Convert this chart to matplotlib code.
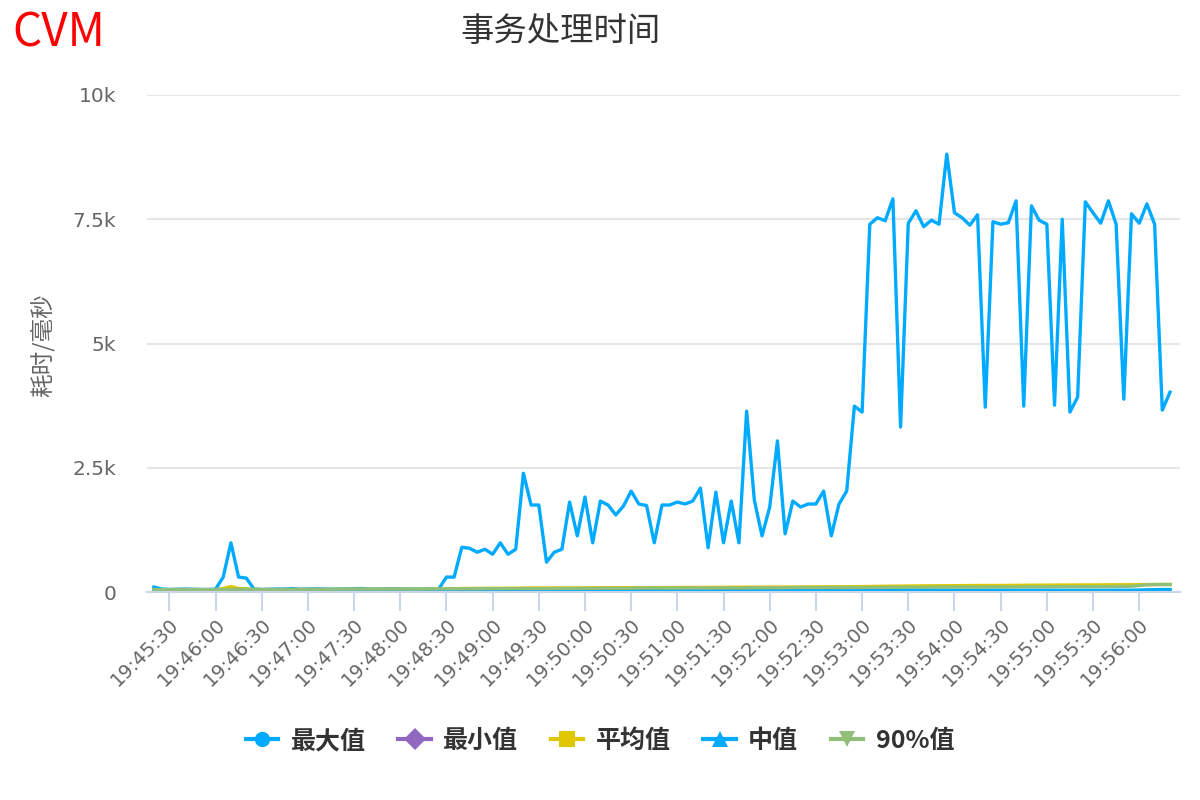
import numpy as np
import pandas as pd
import matplotlib
matplotlib.use("Agg")
import matplotlib.pyplot as plt
from matplotlib.lines import Line2D
from matplotlib.ticker import FuncFormatter, MultipleLocator

plt.rcParams['font.family'] = ['Noto Sans CJK SC', 'DejaVu Sans']

# 采样时间: 19:45:20 起, 每 5 秒一个点
times = pd.date_range("2020-01-01 19:45:20", periods=133, freq="5s")

max_vals = [100, 60, 50, 55, 60, 55, 50, 50, 55, 300,
            990, 300, 280, 60, 50, 55, 60, 60, 70, 55,
            60, 65, 60, 55, 60, 60, 65, 70, 60, 55,
            60, 65, 60, 60, 55, 60, 60, 60, 300, 300,
            900, 880, 800, 860, 760, 990, 760, 860, 2390, 1750,
            1750, 600, 800, 860, 1810, 1130, 1910, 990, 1830, 1750,
            1550, 1730, 2030, 1770, 1740, 990, 1750, 1750, 1810, 1770,
            1830, 2090, 890, 2010, 990, 1830, 990, 3640, 1850, 1130,
            1710, 3040, 1170, 1830, 1710, 1770, 1770, 2030, 1130, 1770,
            2030, 3740, 3620, 7400, 7530, 7470, 7910, 3320, 7420, 7670,
            7350, 7480, 7400, 8810, 7630, 7530, 7380, 7590, 3720, 7450,
            7400, 7430, 7870, 3740, 7770, 7480, 7400, 3760, 7500, 3620,
            3920, 7850, 7630, 7420, 7870, 7400, 3880, 7610, 7420, 7810,
            7400, 3660, 4020]

min_vals = [20, 20, 22, 22, 20, 20, 22, 22, 20, 22,
            22, 22, 22, 20, 20, 22, 22, 22, 22, 24,
            24, 22, 22, 24, 24, 24, 24, 22, 24, 24,
            24, 24, 24, 24, 24, 26, 26, 24, 24, 26,
            26, 26, 26, 26, 26, 26, 26, 26, 26, 26,
            26, 26, 26, 26, 26, 24, 24, 24, 24, 24,
            24, 24, 24, 24, 24, 24, 22, 22, 22, 22,
            22, 22, 22, 22, 22, 22, 22, 22, 22, 22,
            22, 22, 22, 22, 22, 22, 22, 22, 22, 22,
            22, 22, 22, 22, 22, 22, 22, 22, 22, 22,
            22, 22, 22, 22, 22, 22, 22, 22, 22, 22,
            22, 22, 22, 22, 22, 22, 22, 22, 22, 22,
            22, 22, 22, 22, 22, 22, 22, 22, 26, 30,
            32, 32, 32]

avg_vals = [45, 40, 42, 44, 42, 42, 44, 42, 44, 70,
            110, 70, 65, 48, 45, 45, 46, 46, 48, 48,
            48, 48, 48, 50, 50, 50, 50, 52, 52, 52,
            52, 52, 54, 54, 54, 54, 56, 58, 62, 64,
            70, 72, 72, 74, 74, 76, 76, 76, 80, 80,
            80, 78, 78, 80, 82, 82, 84, 84, 86, 86,
            86, 86, 88, 88, 88, 88, 90, 90, 90, 92,
            92, 92, 92, 94, 94, 96, 96, 98, 98, 98,
            100, 100, 100, 102, 102, 102, 104, 104, 104, 106,
            106, 108, 110, 112, 114, 116, 118, 120, 120, 122,
            124, 124, 126, 126, 128, 128, 130, 130, 132, 132,
            132, 134, 134, 136, 136, 138, 138, 140, 140, 140,
            142, 142, 142, 144, 144, 144, 146, 146, 148, 150,
            150, 152, 152]

median_vals = [40, 40, 42, 42, 42, 42, 42, 42, 42, 44,
               44, 44, 44, 44, 44, 44, 44, 44, 46, 46,
               46, 46, 46, 46, 46, 46, 46, 48, 48, 48,
               48, 48, 48, 48, 48, 48, 48, 48, 48, 48,
               48, 48, 48, 48, 48, 48, 48, 46, 46, 46,
               46, 46, 46, 46, 44, 44, 44, 44, 44, 44,
               44, 42, 42, 42, 42, 42, 40, 40, 40, 40,
               40, 38, 38, 38, 38, 38, 38, 36, 36, 36,
               36, 36, 36, 36, 36, 36, 36, 36, 36, 36,
               36, 36, 36, 36, 36, 36, 36, 36, 36, 36,
               36, 36, 36, 36, 36, 36, 36, 36, 36, 36,
               36, 36, 36, 36, 36, 36, 36, 36, 36, 36,
               36, 36, 36, 36, 36, 36, 36, 36, 40, 45,
               48, 50, 50]

p90_vals = [50, 48, 50, 52, 50, 50, 52, 50, 50, 52,
            55, 55, 55, 55, 52, 52, 52, 52, 55, 55,
            55, 55, 55, 55, 58, 58, 58, 58, 58, 58,
            60, 60, 60, 60, 60, 60, 62, 62, 65, 65,
            65, 65, 65, 68, 68, 68, 68, 70, 70, 70,
            70, 70, 70, 72, 72, 72, 72, 72, 75, 75,
            75, 75, 75, 78, 78, 78, 78, 78, 80, 80,
            80, 80, 80, 82, 82, 82, 82, 82, 85, 85,
            85, 85, 85, 88, 88, 88, 88, 90, 90, 90,
            90, 90, 92, 92, 92, 92, 95, 95, 95, 95,
            95, 98, 98, 98, 98, 100, 100, 100, 100, 100,
            102, 102, 102, 105, 105, 105, 105, 108, 108, 108,
            108, 110, 110, 110, 110, 112, 112, 115, 130, 145,
            150, 150, 150]

series_names = ['最大值', '最小值', '平均值', '中值', '90%值']
series_colors = ['#00aaff', '#9068c0', '#e0c800', '#00aaff', '#90bf7a']
series_markers = ['o', 'D', 's', '^', 'v']

# x 轴用当天秒数
secs = (times.hour * 3600 + times.minute * 60 + times.second).to_numpy()
t0 = 19 * 3600 + 45 * 60

fig = plt.figure(figsize=(12, 8), dpi=100)
ax = fig.add_axes([147 / 1200, 1 - 592 / 800, 1033 / 1200, 497 / 800])

all_series = [max_vals, min_vals, avg_vals, median_vals, p90_vals]
for vals, color in zip(all_series, series_colors):
    ax.plot(secs, vals, color=color, lw=2.4, solid_joinstyle='round', clip_on=False)

ax.set_ylim(0, 10000)
ax.set_xlim(t0 + 15.5, t0 + 686.5)
ax.yaxis.set_major_locator(MultipleLocator(2500))


def fmt_y(v, pos):
    if v == 0:
        return '0'
    return f'{v / 1000:g}k'


def fmt_x(v, pos):
    v = int(round(v))
    return f'{v // 3600:02d}:{(v % 3600) // 60:02d}:{v % 60:02d}'


ax.yaxis.set_major_formatter(FuncFormatter(fmt_y))
ax.set_xticks(np.arange(t0 + 30, t0 + 661, 30))
ax.xaxis.set_major_formatter(FuncFormatter(fmt_x))

ax.grid(axis='y', color='#e6e6e6', lw=1.5)
ax.set_axisbelow(True)
for s in ['top', 'right', 'left']:
    ax.spines[s].set_visible(False)
ax.spines['bottom'].set_color('#ccd6eb')
ax.spines['bottom'].set_linewidth(1.5)

ax.tick_params(axis='y', length=0, pad=22, labelsize=14.5, labelcolor='#666666')
ax.tick_params(axis='x', length=13.5, width=1.5, color='#ccd6eb', pad=3,
               labelsize=14, labelcolor='#666666')
for lab in ax.get_yticklabels():
    lab.set_family('DejaVu Sans')
for lab in ax.get_xticklabels():
    lab.set_family('DejaVu Sans')
    lab.set_rotation(45)
    lab.set_ha('right')
    lab.set_va('top')
    lab.set_rotation_mode('anchor')

fig.text(12 / 1200, 1 - 33 / 800, 'CVM', color='red', fontsize=33, ha='left', va='center')
fig.text(560 / 1200, 1 - 32 / 800, '事务处理时间', color='#333333', fontsize=24, ha='center', va='center')
fig.text(42 / 1200, 1 - 345 / 800, '耗时/毫秒', color='#666666', fontsize=17, rotation=90,
         ha='center', va='center')

handles = [Line2D([0], [0], color=c, lw=3, marker=m, markersize=11, markeredgewidth=0)
           for c, m in zip(series_colors, series_markers)]
leg = fig.legend(handles, series_names, loc='center', bbox_to_anchor=(0.5, 1 - 741 / 800),
                 ncol=5, frameon=False, handlelength=1.3, handletextpad=0.5,
                 columnspacing=1.3, prop={'size': 18, 'weight': 'bold'})
for t in leg.get_texts():
    t.set_color('#333333')

fig.savefig('out.png', dpi=100)
